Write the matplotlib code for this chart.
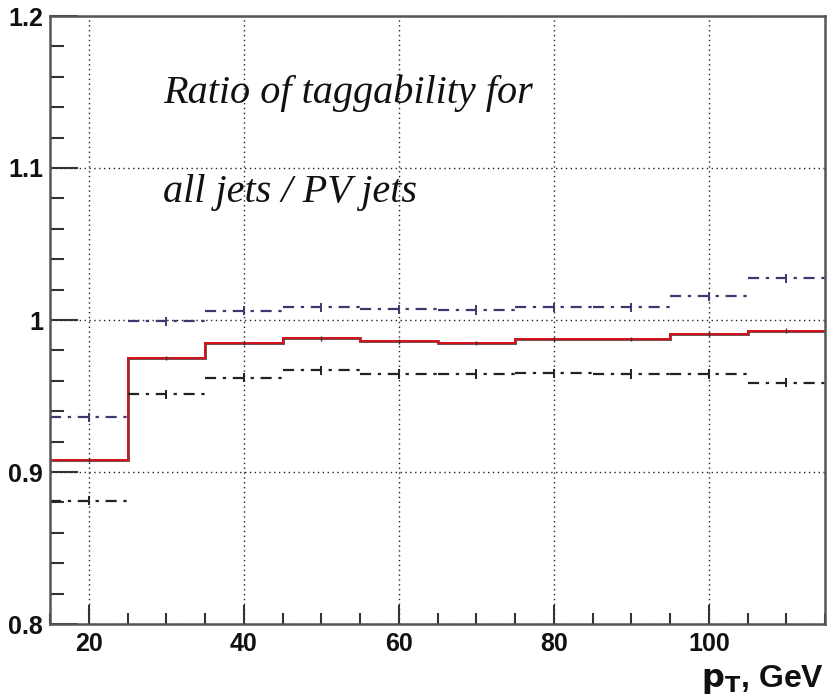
import matplotlib
matplotlib.use("Agg")
import matplotlib.pyplot as plt
import numpy as np
from matplotlib.ticker import MultipleLocator, FixedLocator

# Data (bins of pT in GeV)
bin_edges = [15, 25, 35, 45, 55, 65, 75, 85, 95, 105, 115]
ratio = [0.908, 0.975, 0.985, 0.988, 0.986, 0.985, 0.9875, 0.9875, 0.991, 0.993]
upper = [0.936, 0.9993, 1.006, 1.0085, 1.007, 1.0066, 1.0083, 1.0083, 1.0156, 1.0274]
lower = [0.881, 0.951, 0.962, 0.967, 0.9645, 0.9645, 0.965, 0.9645, 0.9645, 0.9586]
err = 0.0015
x_ticks = [20, 40, 60, 80, 100]
x_ticklabels = ['20', '40', '60', '80', '100']
y_ticks = [0.8, 0.9, 1.0, 1.1, 1.2]
y_ticklabels = ['0.8', '0.9', '1', '1.1', '1.2']

edges = np.array(bin_edges, dtype=float)
centers = 0.5 * (edges[:-1] + edges[1:])

fig = plt.figure(figsize=(8.27, 6.99), dpi=100)
ax = fig.add_axes([50/827, (699-624)/699, (825-50)/827, (624-16)/699])

ax.set_xlim(15, 115)
ax.set_ylim(0.8, 1.2)

# Grid
ax.grid(True, which='major', linestyle=(0, (1, 2.5)), color='#222222', linewidth=1.0)
ax.set_axisbelow(True)

# Upper band (dash-dot, bluish)
ax.hlines(upper, edges[:-1], edges[1:], colors='#3a3a6e', linestyles=[(0, (5, 3, 1.5, 3))], linewidth=1.6)
ax.errorbar(centers, upper, yerr=err*2, fmt='none', ecolor='#3a3a6e', elinewidth=1.4)
# Lower band (dash-dot, black)
ax.hlines(lower, edges[:-1], edges[1:], colors='#222222', linestyles=[(0, (5, 3, 1.5, 3))], linewidth=1.6)
ax.errorbar(centers, lower, yerr=err*2, fmt='none', ecolor='#222222', elinewidth=1.4)

# Main ratio step line
ax.stairs(ratio, edges, color='#6a3a3a', linewidth=2.0, baseline=None)
ax.stairs(ratio, edges, color='#e0101a', linewidth=1.3, baseline=None)
ax.errorbar(centers, ratio, yerr=err, fmt='none', ecolor='#333333', elinewidth=1.0)

# Ticks
ax.xaxis.set_major_locator(FixedLocator(x_ticks))
ax.xaxis.set_minor_locator(MultipleLocator(5))
ax.yaxis.set_major_locator(FixedLocator(y_ticks))
ax.yaxis.set_minor_locator(MultipleLocator(0.02))
ax.set_yticklabels(y_ticklabels)
ax.set_xticklabels(x_ticklabels)
ax.tick_params(axis='both', which='both', direction='in', color='#333333', width=1.5)
ax.tick_params(axis='x', which='major', length=14, pad=6)
ax.tick_params(axis='x', which='minor', length=8)
ax.tick_params(axis='y', which='major', length=20, pad=5)
ax.tick_params(axis='y', which='minor', length=10)
ax.tick_params(top=False, right=False, which='both')
for lab in ax.get_xticklabels() + ax.get_yticklabels():
    lab.set_fontfamily(['Liberation Sans Narrow', 'Liberation Sans', 'DejaVu Sans'])
    lab.set_fontweight('bold')
    lab.set_fontsize(18)
    lab.set_color('#111111')

for s in ax.spines.values():
    s.set_color('#555555')
    s.set_linewidth(1.8)

# Annotations
ax.text(29.6, 1.1428, 'Ratio of taggability for', fontfamily=['Liberation Serif', 'DejaVu Serif'],
        fontstyle='italic', fontsize=29, va='baseline', ha='left', color='#111111')
ax.text(29.6, 1.0776, 'all jets / PV jets', fontfamily=['Liberation Serif', 'DejaVu Serif'],
        fontstyle='italic', fontsize=29, va='baseline', ha='left', color='#111111')

# Axis label
fig.text(824/827, (699-687)/699, r'$\mathbf{p}_{\mathbf{T}}$, GeV', ha='right', va='baseline',
         fontfamily=['Liberation Sans', 'DejaVu Sans'], fontweight='bold', fontsize=23, color='#111111')

fig.savefig('out.png', dpi=100)
